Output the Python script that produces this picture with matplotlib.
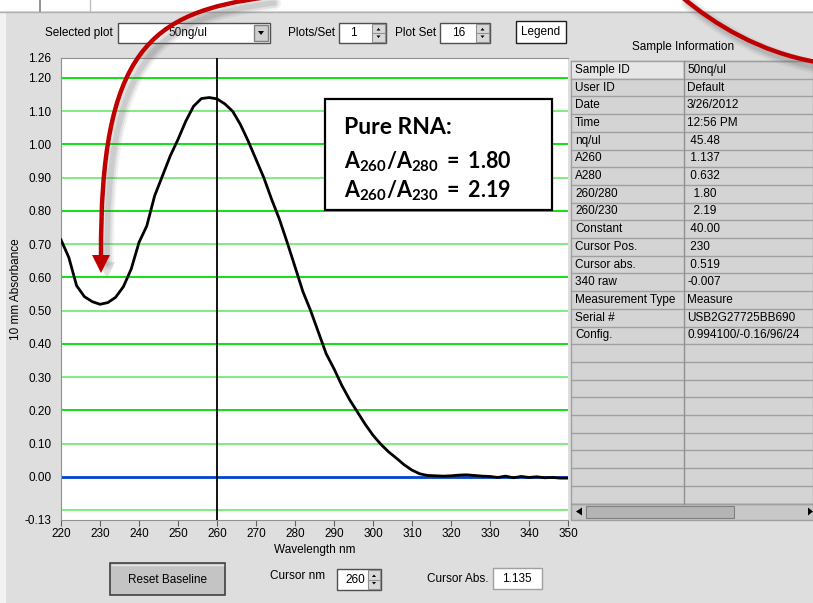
import numpy as np
import matplotlib
matplotlib.use("Agg")
import matplotlib.pyplot as plt
from matplotlib.patches import Rectangle, PathPatch, Polygon
from matplotlib.path import Path

plt.rcParams['font.family'] = ['Liberation Sans', 'DejaVu Sans']
plt.rcParams['mathtext.fontset'] = 'custom'
plt.rcParams['mathtext.rm'] = 'Lato:bold'
plt.rcParams['mathtext.it'] = 'Lato:bold'
plt.rcParams['mathtext.bf'] = 'Lato:bold'

# spectrum, 2 nm steps
wavelength = np.arange(220, 352, 2)
absorbance = [0.713, 0.660, 0.575, 0.542, 0.527, 0.519, 0.524, 0.540, 0.572, 0.625,
              0.705, 0.755, 0.845, 0.905, 0.965, 1.015, 1.070, 1.115, 1.138, 1.141,
              1.137, 1.122, 1.100, 1.060, 1.010, 0.955, 0.900, 0.835, 0.775, 0.705,
              0.632, 0.558, 0.500, 0.435, 0.370, 0.325, 0.275, 0.232, 0.195, 0.158,
              0.125, 0.098, 0.075, 0.056, 0.036, 0.020, 0.009, 0.004, 0.003, 0.002,
              0.003, 0.005, 0.006, 0.004, 0.002, 0.001, -0.002, 0.002, -0.003, 0.001,
              -0.002, 0.000, -0.003, -0.002, -0.004, -0.004]
spec = dict(zip(wavelength.tolist(), absorbance))

y_ticks = [-0.13, 0.0, 0.1, 0.2, 0.3, 0.4, 0.5, 0.6, 0.7, 0.8, 0.9, 1.0, 1.1, 1.2, 1.26]
grid_levels = [-0.1, 0.1, 0.2, 0.3, 0.4, 0.5, 0.6, 0.7, 0.8, 0.9, 1.0, 1.1, 1.2]
x_ticks = list(range(220, 351, 10))

cursor_nm = 260
cursor_abs = 1.135
cursor_pos = 230
constant = 40.0
a260 = spec[260]
a280 = spec[280]
a230 = spec[cursor_pos]

info_labels = ['Sample ID', 'User ID', 'Date', 'Time', 'nq/ul', 'A260', 'A280',
               '260/280', '260/230', 'Constant', 'Cursor Pos.', 'Cursor abs.',
               '340 raw', 'Measurement Type', 'Serial #', 'Config.']
info_values = ['50nq/ul', 'Default', '3/26/2012', '12:56 PM',
               ' %.2f' % (a260 * constant), ' %.3f' % a260, ' %.3f' % a280,
               '  %.2f' % (a260 / a280), '  %.2f' % (a260 / a230),
               ' %.2f' % constant, ' %d' % cursor_pos, ' %.3f' % a230,
               '-0.007', 'Measure', 'USB2G27725BB690', '0.994100/-0.16/96/24']

W, H = 813, 603
fig = plt.figure(figsize=(W / 100, H / 100), dpi=100, facecolor='#dedede')

# pixel-space layer for the window furniture
ui = fig.add_axes([0, 0, 1, 1], zorder=0)
ui.set_xlim(0, W)
ui.set_ylim(H, 0)
ui.axis('off')

ui.add_patch(Rectangle((0, 0), W, 11, fc='white', ec='none'))
ui.plot([0, W], [11.5, 11.5], color='#b0b0b0', lw=1)
ui.plot([40, 40], [0, 11], color='#808080', lw=1.2)
ui.plot([90, 90], [0, 11], color='#c0c0c0', lw=1)
ui.add_patch(Rectangle((0, 12), 6, H, fc='#f2f2f2', ec='none'))

ui_font = 8.5


def box(x0, y0, x1, y1, fc='white', ec='#707070', lw=1):
    ui.add_patch(Rectangle((x0, y0), x1 - x0, y1 - y0, fc=fc, ec=ec, lw=lw))


def spinner(x0, y0, x1, y1):
    box(x0, y0, x1, y1, fc='#d8d8d8', ec='#909090', lw=0.8)
    ym = (y0 + y1) / 2
    ui.plot([x0, x1], [ym, ym], color='#909090', lw=0.8)
    xc = (x0 + x1) / 2
    ui.add_patch(Polygon([(xc - 2, ym - 2.5), (xc + 2, ym - 2.5), (xc, ym - 5)], fc='black', ec='none'))
    ui.add_patch(Polygon([(xc - 2, ym + 2.5), (xc + 2, ym + 2.5), (xc, ym + 5)], fc='black', ec='none'))


# top controls
ui.text(113, 33, 'Selected plot', ha='right', va='center', fontsize=ui_font)
box(118, 23, 270, 43, ec='#505050')
ui.text(168, 33, '50ng/ul', ha='left', va='center', fontsize=ui_font)
box(254, 25, 268, 41, fc='#d0d0d0', ec='#808080')
ui.add_patch(Polygon([(258, 31), (264, 31), (261, 35)], fc='black', ec='none'))

ui.text(335, 33, 'Plots/Set', ha='right', va='center', fontsize=ui_font)
box(339, 23, 386, 43, ec='#505050')
ui.text(350, 33, '1', ha='left', va='center', fontsize=ui_font)
spinner(372, 24, 385, 42)

ui.text(436, 33, 'Plot Set', ha='right', va='center', fontsize=ui_font)
box(440, 23, 490, 43, ec='#505050')
ui.text(452, 33, '16', ha='left', va='center', fontsize=ui_font)
spinner(476, 24, 489, 42)

box(516, 21, 566, 43, ec='#202020')
ui.text(541, 32, 'Legend', ha='center', va='center', fontsize=ui_font)

# sample information table
ui.text(683, 47, 'Sample Information', ha='center', va='center', fontsize=ui_font)
row_h = 17.7
tab_top = 61
col0, col1, col2 = 571, 684, 813
n_rows = 25
ui.add_patch(Rectangle((col0, tab_top), col2 - col0, n_rows * row_h,
                       fc='#d4d4d4', ec='#a0a0a0', lw=1))
ui.add_patch(Rectangle((col0 + 1, tab_top + 1), col1 - col0 - 2, row_h - 2,
                       fc='#e6e6e6', ec='none'))
for i in range(n_rows + 1):
    yy = tab_top + i * row_h
    ui.plot([col0, col2], [yy, yy], color='#a0a0a0', lw=1)
ui.plot([col1, col1], [tab_top, tab_top + n_rows * row_h], color='#909090', lw=1)
for i, (lab, val) in enumerate(zip(info_labels, info_values)):
    yc = tab_top + (i + 0.5) * row_h
    ui.text(col0 + 4, yc, lab, ha='left', va='center', fontsize=ui_font)
    ui.text(col1 + 3, yc, val, ha='left', va='center', fontsize=ui_font)

# table scrollbar
sb_top = tab_top + n_rows * row_h
ui.add_patch(Rectangle((col0, sb_top), col2 - col0, 16, fc='#c8c8c8', ec='#a0a0a0', lw=1))
ui.add_patch(Rectangle((586, sb_top + 2), 148, 12, fc='#b4b4b4', ec='#808080', lw=0.8))
ui.add_patch(Polygon([(576, sb_top + 8), (582, sb_top + 4), (582, sb_top + 12)], fc='black', ec='none'))
ui.add_patch(Polygon([(813, sb_top + 8), (808, sb_top + 4), (808, sb_top + 12)], fc='black', ec='none'))

# bottom controls
box(110, 563, 225, 595, fc='#c4c4c4', ec='#404040', lw=1.2)
ui.plot([112, 223], [565, 565], color='#e8e8e8', lw=1)
ui.text(167, 580, 'Reset Baseline', ha='center', va='center', fontsize=ui_font)

ui.text(270, 576, 'Cursor nm', ha='left', va='center', fontsize=ui_font)
box(337, 569, 381, 590, ec='#505050')
ui.text(345, 580, '%d' % cursor_nm, ha='left', va='center', fontsize=ui_font)
spinner(368, 570, 380, 589)

ui.text(488, 579, 'Cursor Abs.', ha='right', va='center', fontsize=ui_font)
box(493, 568, 542, 589, ec='#a0a0a0')
ui.text(517, 579, '%.3f' % cursor_abs, ha='center', va='center', fontsize=ui_font)

# spectrum plot
ax = fig.add_axes([61 / W, 1 - 520 / H, 507 / W, 462 / H], zorder=1)
ax.set_facecolor('white')
ax.set_xlim(220, 350)
ax.set_ylim(-0.13, 1.26)
for lev in grid_levels:
    bright = round(lev * 10) % 2 == 0
    ax.axhline(lev, color='#10e010' if bright else '#80ec80', lw=1.4, zorder=1)
ax.axhline(0.0, color='#0044cc', lw=2, zorder=2)
ax.axvline(cursor_nm, color='black', lw=1.3, zorder=3)
ax.plot(wavelength, absorbance, color='black', lw=2, zorder=4)

ax.set_xticks(x_ticks)
ax.set_yticks(y_ticks)
ax.set_yticklabels(['%.2f' % v for v in y_ticks])
ax.tick_params(axis='y', length=0, pad=7, labelsize=8.5)
ax.tick_params(axis='x', length=4, color='#606060', direction='out', pad=2, labelsize=8.5)
for s in ['left', 'bottom', 'top']:
    ax.spines[s].set_color('#909090')
ax.spines['right'].set_visible(False)
ax.set_xlabel('Wavelength nm', fontsize=ui_font, labelpad=3)
ax.set_ylabel('10 mm Absorbance', fontsize=ui_font)
ax.yaxis.set_label_coords(-0.077, 0.5)

# overlay: callout box and arrows
top = fig.add_axes([0, 0, 1, 1], zorder=2)
top.set_xlim(0, W)
top.set_ylim(H, 0)
top.axis('off')
top.patch.set_alpha(0)

top.add_patch(Rectangle((325, 99), 227, 111, fc='white', ec='black', lw=1.6))
top.text(344, 127, 'Pure RNA:', fontsize=16.5, fontweight='bold', family='Lato',
         ha='left', va='center')
top.text(344, 162, r'$\mathrm{A_{260}/A_{280}\;=\;%.2f}$' % (a260 / a280), fontsize=15.5,
         ha='left', va='center')
top.text(344, 191, r'$\mathrm{A_{260}/A_{230}\;=\;%.2f}$' % (a260 / a230), fontsize=15.5,
         ha='left', va='center')

codes = [Path.MOVETO, Path.CURVE4, Path.CURVE4, Path.CURVE4]
arrow1 = [(268, -3), (150, 12), (100, 50), (101, 257)]
arrow2 = [(682, -3), (715, 25), (760, 52), (816, 62)]
for pts in [arrow1, arrow2]:
    shadow = [(x + 6, y + 6) for x, y in pts]
    for lw, a in [(10, 0.08), (7, 0.12), (4, 0.15)]:
        top.add_patch(PathPatch(Path(shadow, codes), fc='none', ec='#606060', lw=lw, alpha=a,
                                capstyle='round'))
    top.add_patch(PathPatch(Path(pts, codes), fc='none', ec='#c00000', lw=3.2))
top.add_patch(Polygon([(99, 262), (115, 262), (107, 279)], fc='#888888', ec='none', alpha=0.25))
top.add_patch(Polygon([(92, 255), (110, 255), (101, 273)], fc='#c00000', ec='none'))

fig.savefig('out.png', dpi=100, facecolor=fig.get_facecolor())
